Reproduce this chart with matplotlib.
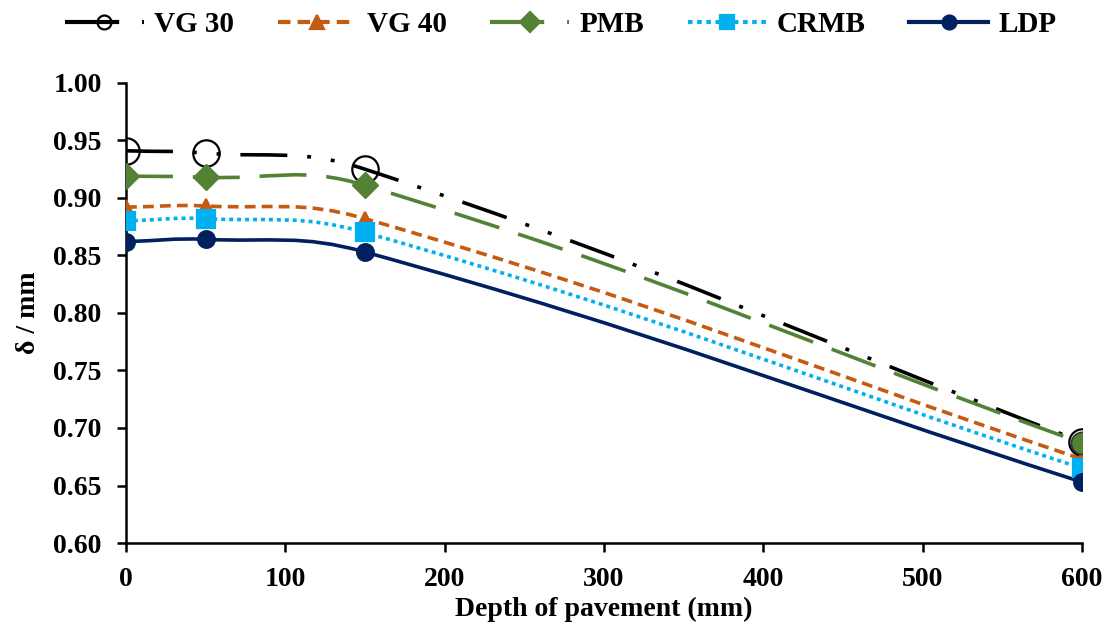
import numpy as np
import matplotlib
matplotlib.use("Agg")
import matplotlib.pyplot as plt
from matplotlib.path import Path
from matplotlib.patches import PathPatch
from matplotlib.lines import Line2D

plt.rcParams['font.family'] = ['Liberation Serif', 'DejaVu Serif']
plt.rcParams['font.weight'] = 'bold'

depth = [0, 50, 150, 600]
vg30 = [0.941, 0.939, 0.925, 0.688]
vg40 = [0.892, 0.893, 0.882, 0.673]
pmb = [0.919, 0.918, 0.911, 0.687]
crmb = [0.880, 0.882, 0.870, 0.665]
ldp = [0.862, 0.864, 0.853, 0.653]

# name, values, colour, dash pattern, marker, face, marker size
series = [
    ("VG 30", vg30, "black", (0, (13, 5.5, 1.1, 5.5, 1.1, 5.5)), "o", "none", 19),
    ("VG 40", vg40, "#C55A11", (0, (3, 1.7)), "^", "#C55A11", 10),
    ("PMB", pmb, "#548235", (0, (13, 5.5)), "D", "#548235", 13),
    ("CRMB", crmb, "#00B0F0", (0, (1.1, 1.1)), "s", "#00B0F0", 13),
    ("LDP", ldp, "#002060", "-", "o", "#002060", 12),
]

X_PX = 956 / 600.0   # approx pixels per mm on screen
Y_PX = 460 / 0.40    # approx pixels per unit on screen


def smooth_path(xs, ys, k=0.42):
    # smoothed line like a spreadsheet chart: cubic Bezier through the points,
    # tangent from neighbours, handle length a fraction of each segment (screen space)
    pts = np.column_stack([np.array(xs) * X_PX, np.array(ys) * Y_PX])
    n = len(pts)
    tang = []
    for i in range(n):
        a = pts[max(i - 1, 0)]
        b = pts[min(i + 1, n - 1)]
        d = b - a
        tang.append(d / np.hypot(*d))
    verts = [pts[0]]
    codes = [Path.MOVETO]
    for i in range(n - 1):
        p1, p2 = pts[i], pts[i + 1]
        L = np.hypot(*(p2 - p1)) * k
        verts += [p1 + tang[i] * L, p2 - tang[i + 1] * L, p2]
        codes += [Path.CURVE4] * 3
    verts = np.array(verts) / [X_PX, Y_PX]
    return Path(verts, codes)


fig = plt.figure(figsize=(11.2, 6.43), dpi=100)
ax = fig.add_axes([0.1125, 0.1555, 0.8535, 0.7155])

handles = []
for name, vals, col, ls, mk, fc, ms in series:
    patch = PathPatch(smooth_path(depth, vals), facecolor="none", edgecolor=col,
                      lw=2.6, linestyle=ls, zorder=2)
    ax.add_patch(patch)
    if name == "PMB":
        ax.plot(depth[:-1], vals[:-1], linestyle="none", marker=mk, ms=ms,
                mfc=fc, mec=col, zorder=3)
        ax.plot(depth[-1:], vals[-1:], linestyle="none", marker="o", ms=16,
                mfc=fc, mec="#333333", mew=1.2, zorder=4)
    else:
        ax.plot(depth, vals, linestyle="none", marker=mk, ms=ms,
                mfc=fc, mec=col, mew=1.6, zorder=3)
    handles.append(Line2D([], [], color=col, lw=3, linestyle=ls, marker=mk,
                          ms=min(ms, 10), mfc=fc, mec=col, mew=1.6))

ax.set_xlim(0, 600)
ax.set_ylim(0.60, 1.00)
ax.set_xticks(np.arange(0, 601, 100))
yt = np.arange(0.60, 1.001, 0.05)
ax.set_yticks(yt)
ax.set_yticklabels([f"{v:.2f}" for v in yt])
for s in ["top", "right"]:
    ax.spines[s].set_visible(False)
for s in ["left", "bottom"]:
    ax.spines[s].set_linewidth(1.8)
ax.tick_params(direction="out", length=6.5, width=1.8, labelsize=20)
ax.tick_params(axis="y", pad=11)
ax.tick_params(axis="x", pad=11)
for lab in ax.get_xticklabels() + ax.get_yticklabels():
    lab.set_fontweight("bold")

ax.set_xlabel("Depth of pavement (mm)", fontsize=20, fontweight="bold", labelpad=3)
ax.set_ylabel("δ / mm", fontsize=20, fontweight="bold", labelpad=9)

fig.legend(handles=handles, labels=[s[0] for s in series], loc="upper left",
           bbox_to_anchor=(0.045, 1.005), ncol=5, frameon=False,
           handlelength=2.7, columnspacing=1.5, handletextpad=0.35,
           borderpad=0.0, prop={'weight': 'bold', 'size': 21})

fig.savefig("out.png", dpi=100)
